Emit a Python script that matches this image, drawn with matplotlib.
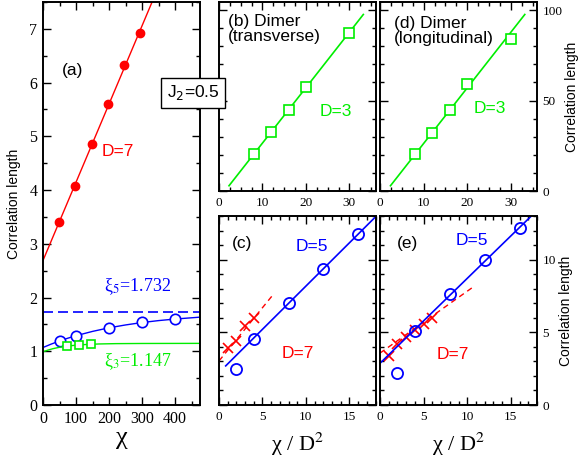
import numpy as np
import matplotlib
matplotlib.use('Agg')
import matplotlib.pyplot as plt
from matplotlib.ticker import MultipleLocator

plt.rcParams['font.family'] = ['Liberation Serif', 'DejaVu Serif']
plt.rcParams['mathtext.fontset'] = 'stix'

RED = '#ff0000'
BLUE = '#0000ff'
GREEN = '#00ee00'
SANS = ['Liberation Sans', 'DejaVu Sans']

# --- panel (a): correlation length vs chi ---
chi_d7 = [49, 98, 147, 196, 245, 294]
xi_d7 = [3.40, 4.08, 4.85, 5.61, 6.33, 6.92]
fit_d7_x = [0, 330]
fit_d7_y = [2.69, 7.5]

chi_d5 = [50, 100, 200, 300, 400]
xi_d5 = [1.19, 1.29, 1.44, 1.54, 1.60]
fit_d5_x = [0, 25, 50, 75, 100, 150, 200, 250, 300, 350, 400, 475]
fit_d5_y = [1.070, 1.134, 1.191, 1.243, 1.290, 1.370, 1.437, 1.490, 1.535, 1.571, 1.600, 1.635]

chi_d3 = [72, 108, 144]
xi_d3 = [1.095, 1.12, 1.13]
fit_d3_x = [0, 15, 30, 45, 60, 80, 100, 130, 170, 220, 300, 475]
fit_d3_y = [0.990, 1.022, 1.048, 1.068, 1.085, 1.101, 1.113, 1.126, 1.136, 1.142, 1.145, 1.147]

xi5_exact = 1.732
xi3_exact = 1.147

# --- panels (b), (d): dimer, D=3 ---
x_b = [8, 12, 16, 20, 30]
y_b = [20.3, 32.5, 44.8, 57.3, 87.3]
fit_b_x = [2.3, 33.2]
fit_b_y = [2.9, 97.6]

x_d = [8, 12, 16, 20, 30]
y_d = [20.3, 32.2, 44.8, 59.1, 83.9]
fit_d_x = [2.4, 33.2]
fit_d_y = [2.9, 97.6]

# --- panels (c), (e): D=5 circles, D=7 crosses ---
x_c5 = [2, 4, 8, 12, 16]
y_c5 = [2.48, 4.52, 7.01, 9.38, 11.77]
fit_c5_x = [0.77, 18]
fit_c5_y = [2.69, 12.94]
x_c7 = [1, 2, 3, 4]
y_c7 = [3.91, 4.37, 5.40, 5.98]
fit_c7_x = [0, 6.06]
fit_c7_y = [3.03, 7.47]

x_e5 = [2, 4, 8, 12, 16]
y_e5 = [2.23, 5.12, 7.66, 10.0, 12.19]
fit_e5_x = [0, 17.4]
fit_e5_y = [2.87, 13.03]
x_e7 = [1, 2, 3, 4, 5, 6]
y_e7 = [3.40, 4.21, 4.71, 5.17, 5.59, 5.98]
fit_e7_x = [0, 10.9]
fit_e7_y = [3.57, 8.21]

W, H = 580, 461
fig = plt.figure(figsize=(W / 100, H / 100), dpi=100)


def box(l, r, t, b):
    return [l / W, 1 - b / H, (r - l) / W, (b - t) / H]


ax_a = fig.add_axes(box(43, 200, 2, 405))
ax_b = fig.add_axes(box(219, 375.5, 2, 191))
ax_c = fig.add_axes(box(219, 375.5, 216, 405))
ax_d = fig.add_axes(box(380, 537, 2, 191))
ax_e = fig.add_axes(box(380, 537, 216, 405))


def style(ax, lab_size, left=True, right=False, bottom=True):
    for s in ax.spines.values():
        s.set_linewidth(1.4)
    ax.tick_params(which='both', direction='in', top=True, right=True,
                   left=True, bottom=True, labelleft=left,
                   labelright=right, labelbottom=bottom, width=1.0,
                   labelsize=lab_size, pad=4)
    ax.tick_params(which='major', length=6)
    ax.tick_params(which='minor', length=3)


# ---- (a) ----
ax = ax_a
ax.plot(fit_d7_x, fit_d7_y, color=RED, lw=1)
ax.plot(chi_d7, xi_d7, 'o', color=RED, ms=6)
ax.axhline(xi5_exact, color=BLUE, lw=1.2, dashes=(6, 3))
ax.plot(fit_d5_x, fit_d5_y, color=BLUE, lw=1)
ax.plot(chi_d5, xi_d5, 'o', mfc='white', mec=BLUE, mew=1.2, ms=7.5)
ax.plot(fit_d3_x, fit_d3_y, color=GREEN, lw=1)
ax.plot(chi_d3, xi_d3, 's', mfc='white', mec=GREEN, mew=1.2, ms=6)
ax.set_xlim(0, 475)
ax.set_ylim(0, 7.5)
ax.xaxis.set_major_locator(MultipleLocator(100))
ax.xaxis.set_minor_locator(MultipleLocator(50))
ax.yaxis.set_major_locator(MultipleLocator(1))
ax.yaxis.set_minor_locator(MultipleLocator(0.5))
style(ax, 11.5)
ax.set_xlabel('χ', fontsize=19, labelpad=0)
ax.set_ylabel('Correlation length', fontsize=10, family=SANS, labelpad=6)
ax.text(0.19, 0.83, '(a)', transform=ax.transAxes, fontsize=12.5,
        family=SANS, ha='center', va='center')
ax.text(0.478, 0.628, 'D=7', transform=ax.transAxes, fontsize=12.5,
        family=SANS, color=RED, ha='center', va='center')
ax.text(0.605, 0.293, 'ξ$_5$=1.732', transform=ax.transAxes, fontsize=13,
        color=BLUE, ha='center', va='center')
ax.text(0.605, 0.107, 'ξ$_3$=1.147', transform=ax.transAxes, fontsize=13,
        color=GREEN, ha='center', va='center')

# ---- (b) and (d) ----
for ax, xs, ys, fx, fy, lab, lab_xy, d3_xy in [
        (ax_b, x_b, y_b, fit_b_x, fit_b_y, '(b) Dimer\n(transverse)',
         (0.058, 0.935), (0.744, 0.418)),
        (ax_d, x_d, y_d, fit_d_x, fit_d_y, '(d) Dimer\n(longitudinal)',
         (0.089, 0.925), (0.70, 0.434))]:
    ax.plot(fx, fy, color=GREEN, lw=1.2)
    ax.plot(xs, ys, 's', mfc='white', mec=GREEN, mew=1.2, ms=6.5)
    ax.set_xlim(0, 36)
    ax.set_ylim(0, 104.5)
    ax.xaxis.set_major_locator(MultipleLocator(10))
    ax.xaxis.set_minor_locator(MultipleLocator(2.5))
    ax.yaxis.set_major_locator(MultipleLocator(50))
    ax.yaxis.set_minor_locator(MultipleLocator(10))
    ax.text(lab_xy[0], lab_xy[1], lab, transform=ax.transAxes, fontsize=12.5,
            family=SANS, ha='left', va='top', linespacing=1.0)
    ax.text(d3_xy[0], d3_xy[1], 'D=3', transform=ax.transAxes, fontsize=12.5,
            family=SANS, color=GREEN, ha='center', va='center')

style(ax_b, 9.5, left=False)
style(ax_d, 9.5, left=False, right=True)

# ---- (c) and (e) ----
for ax, x5, y5, f5x, f5y, x7, y7, f7x, f7y, lab, pos in [
        (ax_c, x_c5, y_c5, fit_c5_x, fit_c5_y, x_c7, y_c7, fit_c7_x, fit_c7_y,
         '(c)', [(0.147, 0.857), (0.596, 0.836), (0.506, 0.275)]),
        (ax_e, x_e5, y_e5, fit_e5_x, fit_e5_y, x_e7, y_e7, fit_e7_x, fit_e7_y,
         '(e)', [(0.178, 0.857), (0.586, 0.873), (0.465, 0.265)])]:
    ax.plot(f7x, f7y, color=RED, lw=1, dashes=(4, 3))
    ax.plot(x7, y7, 'x', color=RED, mew=1.2, ms=7.5)
    ax.plot(f5x, f5y, color=BLUE, lw=1.2)
    ax.plot(x5, y5, 'o', mfc='none', mec=BLUE, mew=1.3, ms=8)
    ax.set_xlim(0, 18)
    ax.set_ylim(0, 13)
    ax.xaxis.set_major_locator(MultipleLocator(5))
    ax.xaxis.set_minor_locator(MultipleLocator(1))
    ax.yaxis.set_major_locator(MultipleLocator(5))
    ax.yaxis.set_minor_locator(MultipleLocator(1))
    ax.set_xlabel('χ / D$^2$', fontsize=16, labelpad=6)
    ax.text(pos[0][0], pos[0][1], lab, transform=ax.transAxes, fontsize=12.5,
            family=SANS, ha='center', va='center')
    ax.text(pos[1][0], pos[1][1], 'D=5', transform=ax.transAxes, fontsize=12.5,
            family=SANS, color=BLUE, ha='center', va='center')
    ax.text(pos[2][0], pos[2][1], 'D=7', transform=ax.transAxes, fontsize=12.5,
            family=SANS, color=RED, ha='center', va='center')

style(ax_c, 9.5, left=False)
style(ax_e, 9.5, left=False, right=True)

for ax in (ax_d, ax_e):
    ax.yaxis.set_label_position('right')
    ax.set_ylabel('Correlation length', fontsize=10, family=SANS, labelpad=2)

fig.text(193 / W, 1 - 93 / H, r'J$_2$=0.5', fontsize=12.5, family=SANS,
         math_fontfamily='dejavusans', ha='center', va='center', zorder=10,
         bbox=dict(boxstyle='square,pad=0.3', fc='white', ec='black', lw=1))

fig.savefig('out.png', dpi=100)
